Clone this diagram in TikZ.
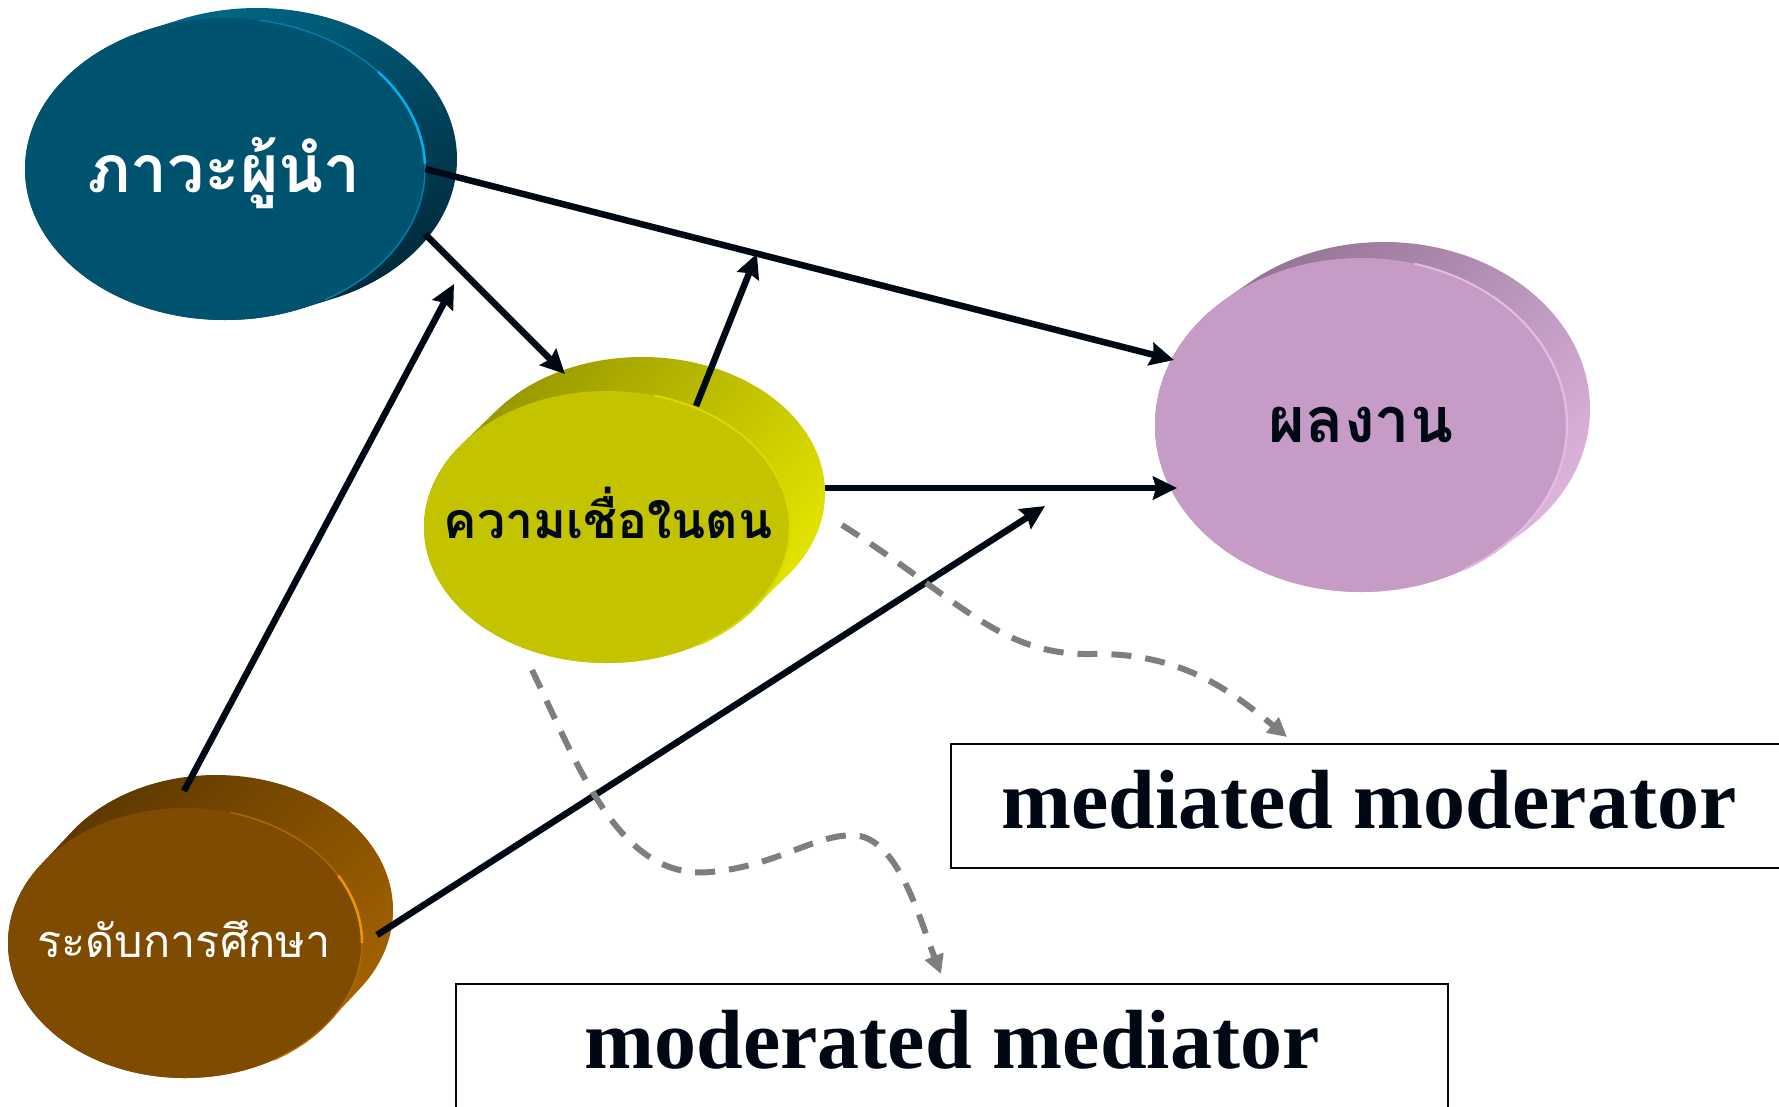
\documentclass[tikz,border=0pt]{standalone}
\usepackage{fontspec}
\setmainfont{Liberation Serif}
\newfontfamily\thaifont[Script=Thai]{Loma}
\usetikzlibrary{arrows.meta,calc,shapes.geometric}

\definecolor{ink}{HTML}{000814}
\definecolor{dashgrey}{HTML}{7E7E7E}
% leadership disc
\definecolor{tealfront}{HTML}{00536F}
\definecolor{tealtop}{HTML}{006A8A}
\definecolor{tealbot}{HTML}{00283A}
\definecolor{tealrim}{HTML}{00B0F0}
% self-efficacy disc
\definecolor{olivefront}{HTML}{C3C300}
\definecolor{olivetop}{HTML}{969600}
\definecolor{olivebot}{HTML}{E6E600}
\definecolor{oliverim}{HTML}{DADA00}
% performance disc
\definecolor{lilacfront}{HTML}{C69CC6}
\definecolor{lilactop}{HTML}{927292}
\definecolor{lilacbot}{HTML}{DDB4DD}
\definecolor{lilacrim}{HTML}{E2BCE2}
% education disc
\definecolor{brownfront}{HTML}{7F4B00}
\definecolor{browntop}{HTML}{5C3800}
\definecolor{brownbot}{HTML}{A56300}
\definecolor{brownrim}{HTML}{F09500}

\tikzset{
  hub/.style={ellipse, draw=none, inner sep=0pt},
  lead side/.style={top color=tealtop, bottom color=tealbot, shading angle=25},
  lead front/.style={fill=tealfront},
  lead rim/.style={draw=tealrim!45!tealfront, line width=1.5pt},
  lead glint/.style={draw=tealrim, line width=2.5pt},
  self side/.style={top color=olivetop, bottom color=olivebot, shading angle=50},
  self front/.style={fill=olivefront},
  self rim/.style={draw=oliverim, line width=2pt},
  self glint/.style={draw=oliverim, line width=2pt},
  perf side/.style={top color=lilactop, bottom color=lilacbot, shading angle=45},
  perf front/.style={fill=lilacfront},
  perf rim/.style={draw=lilacrim, line width=2pt},
  perf glint/.style={draw=lilacrim, line width=2pt},
  edu side/.style={top color=browntop, bottom color=brownbot, shading angle=45},
  edu front/.style={fill=brownfront},
  edu rim/.style={draw=brownrim!40!brownfront, line width=1.5pt},
  edu glint/.style={draw=brownrim, line width=2.5pt},
  thaibig/.style={font=\thaifont\bfseries\fontsize{66}{70}\selectfont, text=white},
  thaimid/.style={font=\thaifont\bfseries\fontsize{50}{56}\selectfont, text=ink},
  thaiperf/.style={font=\thaifont\bfseries\fontsize{63}{68}\selectfont, text=ink},
  thaiedu/.style={font=\thaifont\fontsize{45}{50}\selectfont, text=white},
  causal/.style={draw=ink, line width=6.5pt, -{Stealth[length=24pt,width=23pt,inset=3pt]}},
  effect/.style={draw=dashgrey, line width=6pt, dash pattern=on 20pt off 14pt,
    -{Triangle[length=19pt,width=19pt]}},
  label box/.style={draw=ink, line width=2pt, rectangle, inner sep=0pt,
    minimum height=124pt, text height=57pt, text depth=12pt,
    font=\bfseries\fontsize{84}{90}\selectfont, text=ink},
}

% an extruded oval: shaded side stack, front face, rim line with a glint,
% and a named hub node the size of the front face
% #1 name, #2 cx, #3 cy, #4 rx, #5 ry, #6 dx, #7 dy (extrusion),
% #8 rim end angle, #9 glint angles "a/b"
\newcommand\ovaldisc[9]{%
  \shade[#1 side] \foreach \i in {0,1,...,24} {
    ({#2+\i*#6/24},{#3+\i*#7/24}) ellipse [x radius=#4pt, y radius=#5pt] };
  \path[#1 front] (#2,#3) ellipse [x radius=#4pt, y radius=#5pt];
  \draw[#1 rim] (#2,#3) ++(-60:#4pt and #5pt)
    arc [start angle=-60, end angle=#8, x radius=#4pt, y radius=#5pt];
  \foreach \ga/\gb in {#9} {
    \draw[#1 glint] (#2,#3) ++(\ga:#4pt and #5pt)
      arc [start angle=\ga, end angle=\gb, x radius=#4pt, y radius=#5pt];
  }
  \node[hub, minimum width=2*#4pt, minimum height=2*#5pt] (#1) at (#2,#3) {};
}

\begin{document}
\begin{tikzpicture}[x=1pt, y=-1pt]
\useasboundingbox (0,0) rectangle (1779,1106);

% discs
\ovaldisc{lead}{225}{169}{200}{151}{32}{-10}{80}{2/40}
\ovaldisc{self}{607}{527}{183}{136}{35}{-34}{75}{-40/40}
\ovaldisc{perf}{1361}{425}{206}{167}{23}{-16}{75}{-50/50}
\ovaldisc{edu}{185}{943}{177}{135}{31}{-33}{75}{0/30}

% disc captions
\node[thaibig, anchor=base] (leadtxt) at (224,192) {ภาวะผู้นำ};
\node[thaimid, anchor=base] (selftxt) at (608,538) {ความเชื่อในตน};
\node[thaiperf, anchor=base] (perftxt) at (1361,442) {ผลงาน};
\node[thaiedu, anchor=base] (edutxt) at (184,957) {ระดับการศึกษา};

% label boxes
\node[label box, minimum width=836pt] (medmod) at (1369,806) {mediated moderator};
\node[label box, minimum width=992pt] (modmed) at (952,1046) {moderated mediator};

% points on paths that other paths act upon
\path (lead.east) -- ($(perf.center)+(-187,-65)$) coordinate[pos=0.443] (m1);
\path ($(self.center)+(218,-39)$) -- ($(perf.center)+(-184,63)$) coordinate[pos=0.625] (m4a);
\coordinate (m4) at ($(m4a)+(0,18)$);

% causal paths
\draw[causal] (lead.east) -- ($(perf.center)+(-187,-65)$);
\draw[causal] ($(lead.center)+(200,65)$) -- ($(self.center)+(-42,-153)$);
\draw[causal] ($(self.center)+(89,-121)$) -- (m1);
\draw[causal] ($(self.center)+(218,-39)$) -- ($(perf.center)+(-184,63)$);
\draw[causal] ($(edu.center)+(-1,-152)$) -- ($(lead.center)+(229,115)$);
\draw[causal] ($(edu.center)+(192,-8)$) -- (m4);

% dashed pointers to the box labels
\draw[effect] ($(self.center)+(235,-2)$)
  .. controls (960,600) and (1000,655) .. (1090,654)
  .. controls (1180,652) and (1230,690) .. ($(medmod.north west)+(337,-6)$);
\draw[effect] ($(self.center)+(-75,143)$)
  .. controls (580,770) and (620,880) .. (710,872)
  .. controls (780,866) and (820,830) .. (860,836)
  .. controls (900,845) and (920,920) .. ($(modmed.north west)+(486,-9)$);
\end{tikzpicture}
\end{document}
